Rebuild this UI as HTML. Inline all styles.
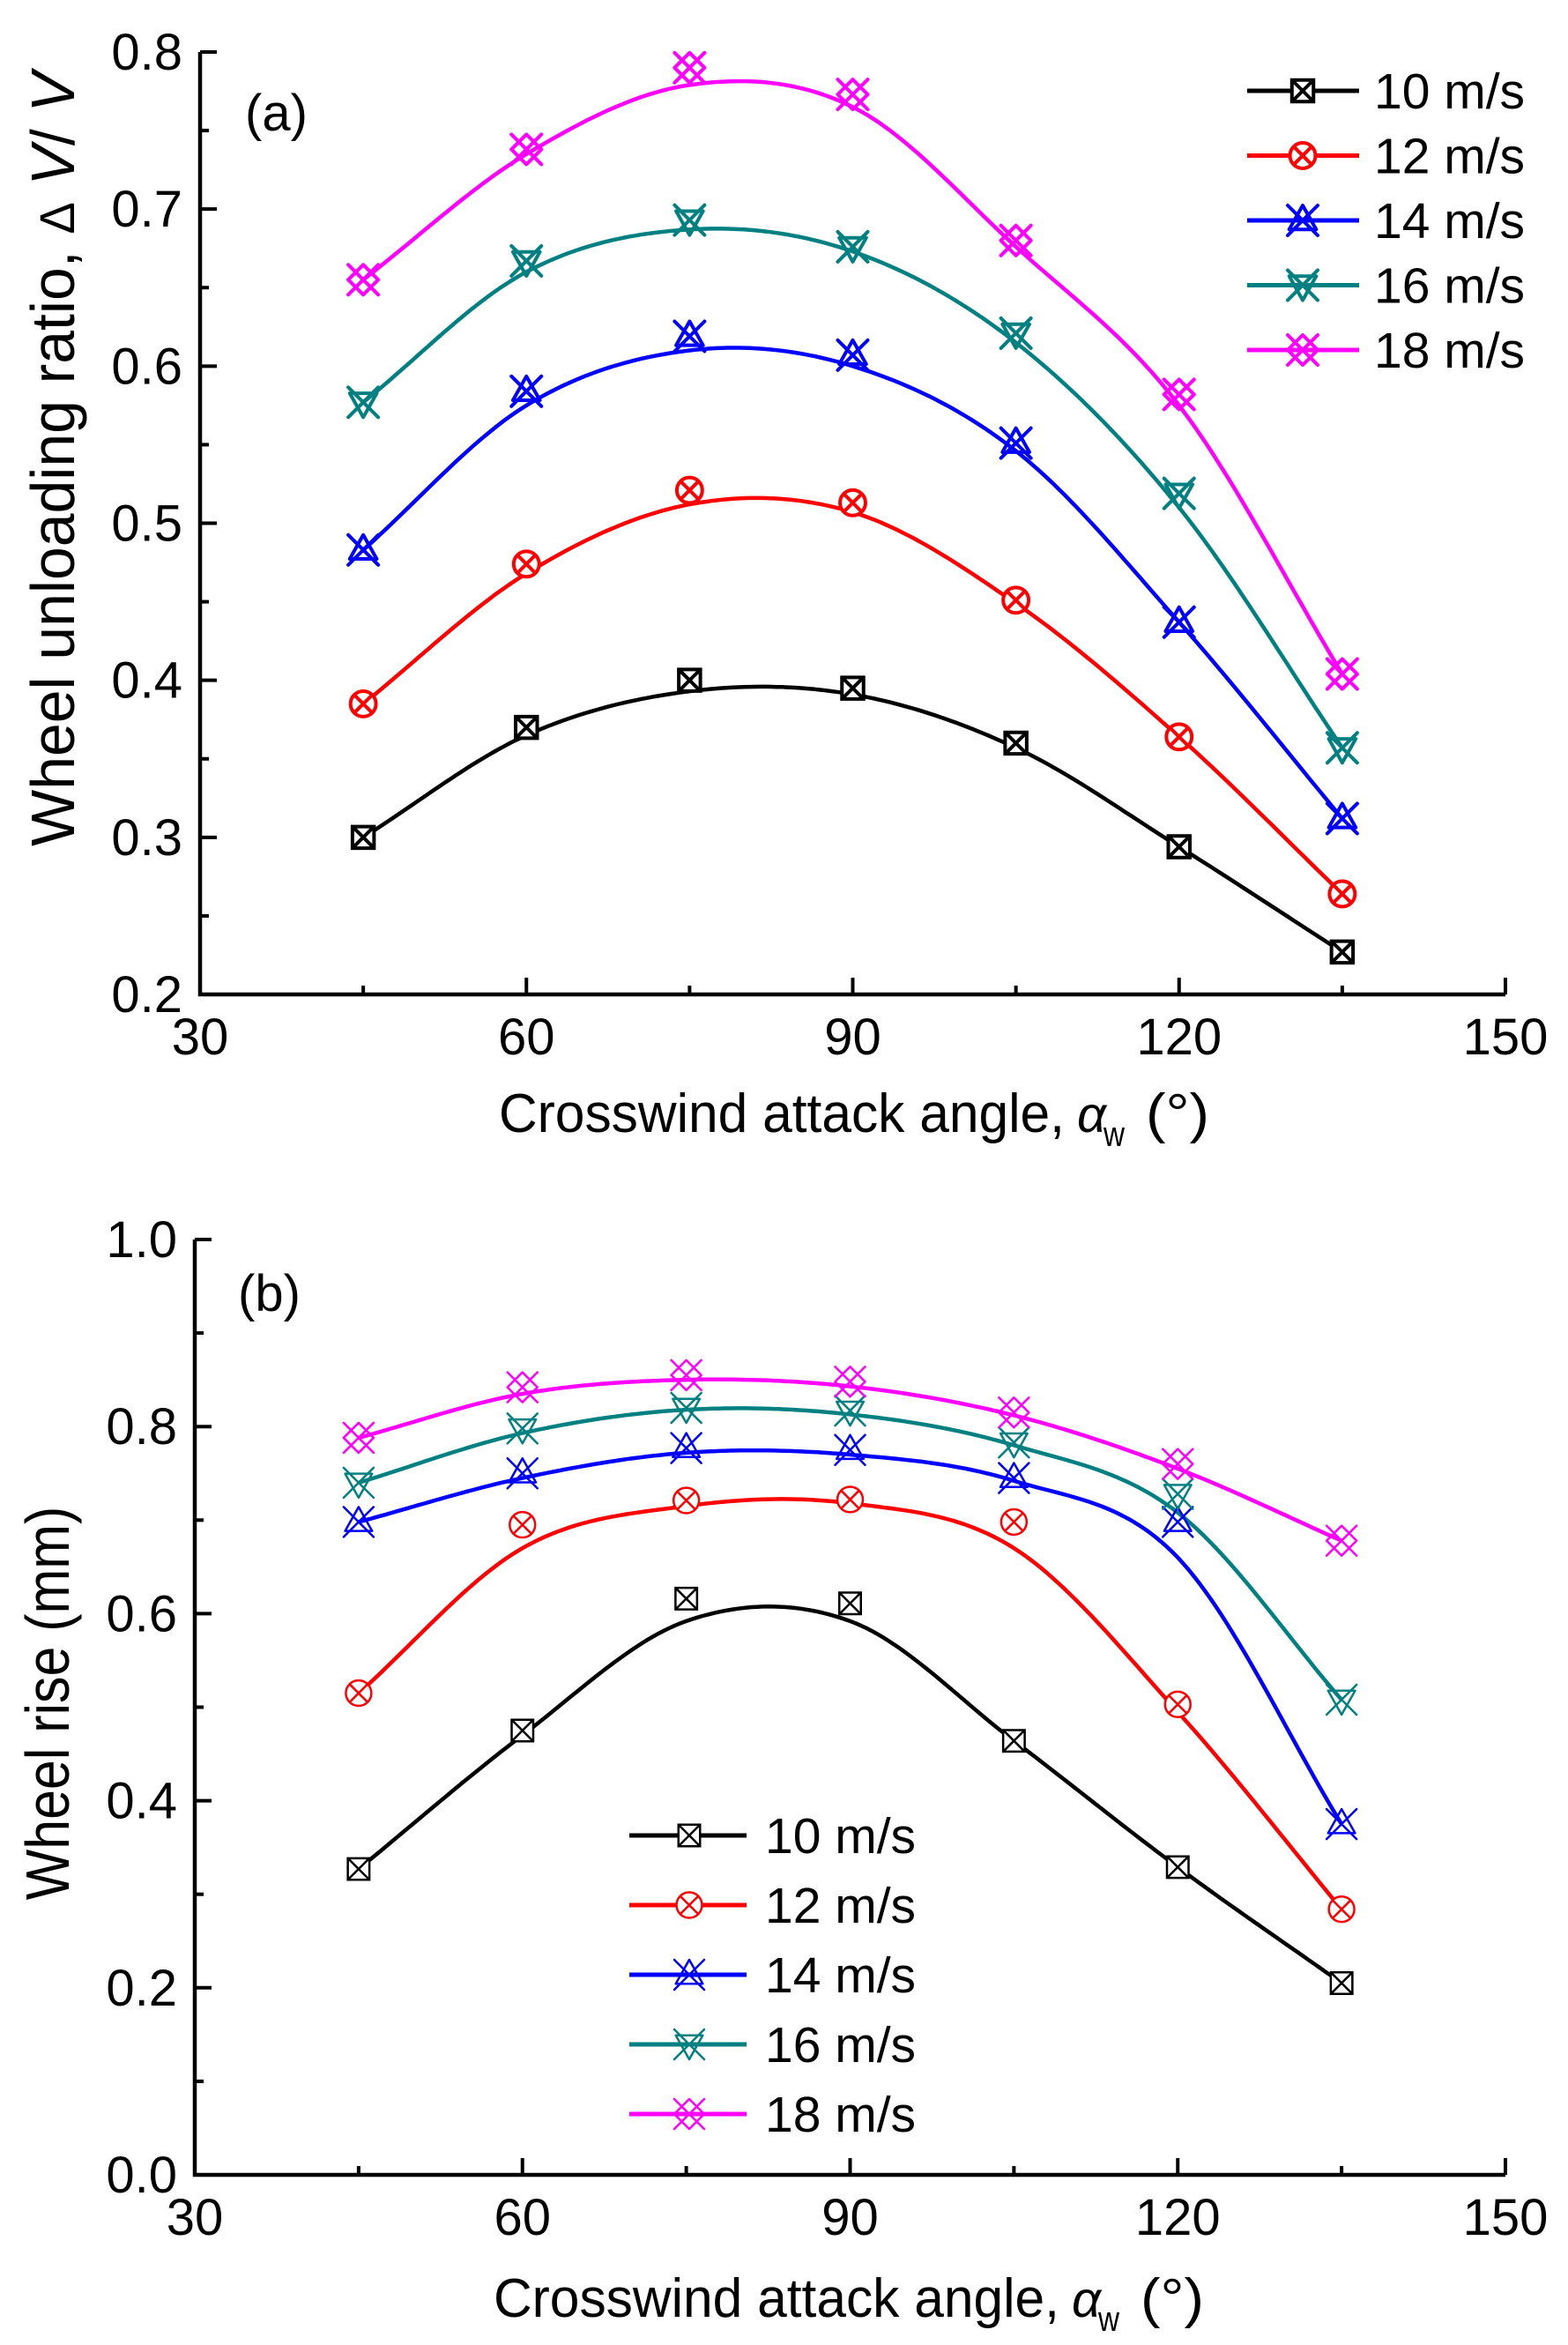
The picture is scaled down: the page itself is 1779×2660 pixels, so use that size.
<!DOCTYPE html>
<html><head><meta charset="utf-8"><style>
html,body{margin:0;padding:0;background:#fff}
svg{display:block}
text{font-family:"Liberation Sans",Arial,sans-serif;fill:#000}
</style></head><body>
<svg id="s" width="1779" height="2660" viewBox="0 0 1779 2660" xmlns="http://www.w3.org/2000/svg">
<rect width="1779" height="2660" fill="#fff"/>
<g id="g"></g>
<text x="278" y="148" font-size="58">(a)</text>
<text x="270" y="1487" font-size="58">(b)</text>
<g transform="translate(84,521) rotate(-90) scale(0.97,1)"><text x="0" y="0" text-anchor="middle" font-size="70">Wheel unloading ratio, <tspan font-size="56">Δ</tspan> <tspan font-style="italic">V</tspan>/ <tspan font-style="italic">V</tspan></text></g>
<g transform="translate(78,1932) rotate(-90) scale(0.87,1)"><text x="0" y="0" text-anchor="middle" font-size="70">Wheel rise (mm)</text></g>
<g><text x="566" y="1284" font-size="62" textLength="642" lengthAdjust="spacingAndGlyphs">Crosswind attack angle,</text>
<text x="1222" y="1284" font-size="58" font-family="Liberation Serif" font-style="italic">α</text>
<text x="1252" y="1300" font-size="40" textLength="24" lengthAdjust="spacingAndGlyphs">w</text>
<text x="1300" y="1284" font-size="62" textLength="72" lengthAdjust="spacingAndGlyphs">(°)</text></g>
<g transform="translate(-6,1344)"><text x="566" y="1284" font-size="62" textLength="642" lengthAdjust="spacingAndGlyphs">Crosswind attack angle,</text>
<text x="1222" y="1284" font-size="58" font-family="Liberation Serif" font-style="italic">α</text>
<text x="1252" y="1300" font-size="40" textLength="24" lengthAdjust="spacingAndGlyphs">w</text>
<text x="1300" y="1284" font-size="62" textLength="72" lengthAdjust="spacingAndGlyphs">(°)</text></g>
</svg>
<script>
var NS="http://www.w3.org/2000/svg",G=document.getElementById('g');
function el(n,a,p){var e=document.createElementNS(NS,n);for(var k in a)e.setAttribute(k,a[k]);(p||G).appendChild(e);return e;}
var cols=['#000000','#ff0000','#0000ff','#008080','#ff00ff'];
var labs=['10 m/s','12 m/s','14 m/s','16 m/s','18 m/s'];
var X=[45,60,75,90,105,120,135];
function marker(t,cx,cy,c,sw,r){
 var d='';
 if(t==0){var h=r*0.72;d='M'+(cx-h)+' '+(cy-h)+'h'+2*h+'v'+2*h+'h'+(-2*h)+'z M'+(cx-h)+' '+(cy-h)+'L'+(cx+h)+' '+(cy+h)+'M'+(cx+h)+' '+(cy-h)+'L'+(cx-h)+' '+(cy+h);
  el('path',{d:d,fill:'#fff',stroke:c,'stroke-width':sw});return;}
 if(t==1){var rr=r*0.85;el('circle',{cx:cx,cy:cy,r:rr,fill:'#fff',stroke:c,'stroke-width':sw});var h=rr*0.72;
  el('path',{d:'M'+(cx-h)+' '+(cy-h)+'L'+(cx+h)+' '+(cy+h)+'M'+(cx+h)+' '+(cy-h)+'L'+(cx-h)+' '+(cy+h),stroke:c,'stroke-width':sw,fill:'none'});return;}
 var X_='M'+(cx-r)+' '+(cy-r)+'L'+(cx+r)+' '+(cy+r)+'M'+(cx+r)+' '+(cy-r)+'L'+(cx-r)+' '+(cy+r);
 if(t==2)d=X_+'M'+cx+' '+(cy-r)+'L'+(cx+r*0.9)+' '+(cy+r*0.6)+'L'+(cx-r*0.9)+' '+(cy+r*0.6)+'Z';
 if(t==3)d=X_+'M'+cx+' '+(cy+r)+'L'+(cx+r*0.9)+' '+(cy-r*0.6)+'L'+(cx-r*0.9)+' '+(cy-r*0.6)+'Z';
 if(t==4)d=X_+'M'+cx+' '+(cy-r)+'L'+(cx+r)+' '+cy+'L'+cx+' '+(cy+r)+'L'+(cx-r)+' '+cy+'Z';
 el('path',{d:d,fill:'none',stroke:c,'stroke-width':sw,'stroke-linejoin':'round','stroke-linecap':'round'});
}
function cr(ys){return function(x){var i=Math.min(5,Math.floor((x-45)/15)),t=(x-45)/15-i;
 var p1=ys[i],p2=ys[i+1],p0=i>0?ys[i-1]:2*p1-p2,p3=i<5?ys[i+2]:2*p2-p1;
 return 0.5*((2*p1)+(-p0+p2)*t+(2*p0-5*p1+4*p2-p3)*t*t+(-p0+3*p1-3*p2+p3)*t*t*t);};}
function panel(P){
 var sx=function(v){return P.x0+(v-30)/120*(P.x1-P.x0);},sy=function(v){return P.y0-(v-P.vmin)/(P.vmax-P.vmin)*(P.y0-P.y1);};
 el('path',{d:'M'+P.x0+' '+P.y1+'V'+P.y0+'H'+P.x1,fill:'none',stroke:'#000','stroke-width':4.5});
 for(var v=30;v<=150;v+=15){var x=sx(v),L=(v%30==0)?19:10;el('line',{x1:x,y1:P.y0,x2:x,y2:P.y0-L,stroke:'#000','stroke-width':4});
  if(v%30==0){var t=el('text',{x:x,y:P.y0+68,'font-size':58,'text-anchor':'middle'});t.textContent=v;}}
 var st=(P.vmax-P.vmin)/P.nt;
 for(var i=0;i<=P.nt*2;i++){var v=P.vmin+i*st/2,y=sy(v),L=(i%2==0)?19:10;el('line',{x1:P.x0,y1:y,x2:P.x0+L,y2:y,stroke:'#000','stroke-width':4});
  if(i%2==0){var t=el('text',{x:P.x0-20,y:y+20,'font-size':58,'text-anchor':'end'});t.textContent=v.toFixed(1);}}
 for(var s=0;s<5;s++){var f=cr(P.c[s]),d='';for(var x=45;x<=135.001;x+=0.5)d+=(x==45?'M':'L')+sx(x).toFixed(1)+' '+sy(f(Math.min(x,134.999))).toFixed(1);
  el('path',{d:d,fill:'none',stroke:cols[s],'stroke-width':4.5,'stroke-linejoin':'round'});}
 for(var s=0;s<5;s++)for(var k=0;k<7;k++)marker(s,sx(X[k]),sy(P.d[s][k]),cols[s],P.msw,17);
 for(var s=0;s<5;s++){var y=P.ly+s*P.ld;el('line',{x1:P.lx0,y1:y,x2:P.lx1,y2:y,stroke:cols[s],'stroke-width':5});
  marker(s,P.lm,y,cols[s],P.msw,17);var t=el('text',{x:P.lt,y:y+20,'font-size':57});t.textContent=labs[s];}
}
panel({x0:227,x1:1708,y0:1128,y1:59,vmin:0.2,vmax:0.8,nt:6,msw:4,
 d:[[0.300,0.370,0.400,0.395,0.360,0.294,0.227],[0.385,0.474,0.521,0.513,0.451,0.364,0.264],[0.483,0.584,0.619,0.607,0.551,0.437,0.312],[0.577,0.667,0.693,0.676,0.621,0.519,0.357],[0.655,0.738,0.790,0.773,0.680,0.582,0.404]],
 c:[[0.300,0.365,0.393,0.391,0.357,0.294,0.227],[0.385,0.468,0.512,0.507,0.449,0.364,0.264],[0.483,0.575,0.610,0.600,0.546,0.437,0.312],[0.577,0.660,0.687,0.673,0.615,0.510,0.357],[0.655,0.735,0.779,0.765,0.676,0.575,0.404]],
 ly:103,ld:73.5,lx0:1415,lx1:1542,lm:1478,lt:1559});
panel({x0:221,x1:1708,y0:2467,y1:1406,vmin:0,vmax:1.0,nt:5,msw:2.5,
 d:[[0.327,0.475,0.616,0.611,0.464,0.329,0.205],[0.515,0.695,0.721,0.722,0.698,0.503,0.284],[0.698,0.750,0.777,0.775,0.745,0.698,0.375],[0.740,0.798,0.820,0.817,0.783,0.728,0.508],[0.788,0.842,0.855,0.848,0.815,0.760,0.678]],
 c:[[0.327,0.470,0.592,0.592,0.464,0.329,0.205],[0.515,0.670,0.715,0.718,0.670,0.495,0.284],[0.698,0.745,0.772,0.770,0.742,0.660,0.375],[0.740,0.793,0.818,0.813,0.780,0.708,0.508],[0.788,0.835,0.850,0.843,0.812,0.755,0.678]],
 ly:2082,ld:79,lx0:714,lx1:847,lm:782,lt:868});
</script>
</body></html>
